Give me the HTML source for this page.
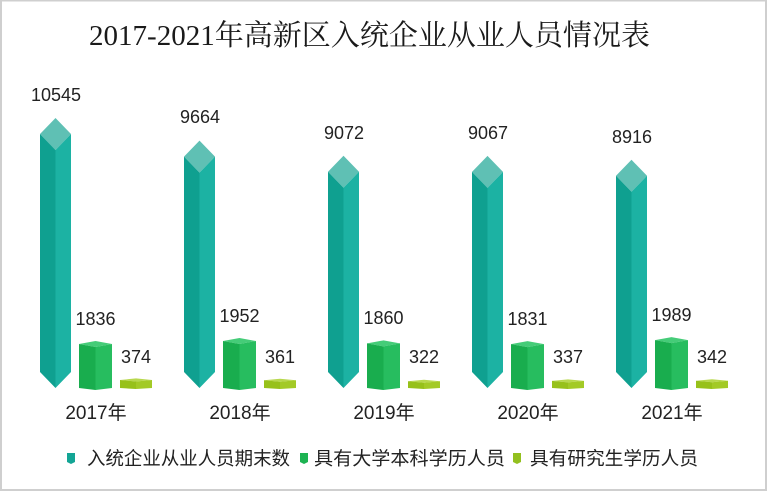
<!DOCTYPE html>
<html>
<head>
<meta charset="utf-8">
<style>
  html,body{margin:0;padding:0;background:#fff;}
  svg{display:block;}
  .lbl{font-family:"Liberation Sans","Noto Sans CJK SC",sans-serif;font-size:18px;fill:#222;text-anchor:middle;}
  .yr{font-family:"Liberation Sans","Noto Sans CJK SC",sans-serif;font-size:19px;fill:#222;text-anchor:middle;}
  .lg{font-family:"Liberation Sans","Noto Sans CJK SC",sans-serif;font-size:18.5px;fill:#222;}
  .tt{font-family:"Liberation Serif","Noto Serif CJK SC",serif;font-size:29px;fill:#1a1a1a;}
</style>
</head>
<body>
<svg width="768" height="492" viewBox="0 0 768 492" xmlns="http://www.w3.org/2000/svg">
  <rect x="0" y="0" width="768" height="492" fill="#fff"/>
  <!-- border -->
  <rect x="1" y="0.5" width="765" height="489.5" fill="none" stroke="#cfcfcf" stroke-width="2"/>

  <text class="tt" x="89" y="45" textLength="561" lengthAdjust="spacingAndGlyphs">2017-2021年高新区入统企业从业人员情况表</text>

  <!-- Group 2017 x0=40 -->
  <g>
    <polygon points="55.5,118 71,134 55.5,150 40,134" fill="#5FC0B4"/>
    <polygon points="40,134 55.5,150 55.5,388 40,372" fill="#0FA090"/>
    <polygon points="55.5,150 71,134 71,372 55.5,388" fill="#1CB2A3"/>
    <text class="lbl" x="56" y="101">10545</text>
    <polygon points="79,344 95.5,341 112,344 95.5,347" fill="#45CC78"/>
    <polygon points="79,344 95.5,347 95.5,390 79,388" fill="#19AD4E"/>
    <polygon points="95.5,347 112,344 112,388 95.5,390" fill="#27BD5F"/>
    <text class="lbl" x="95.5" y="325">1836</text>
    <polygon points="120,380 136,378.4 152,380 136,381.5" fill="#B8D84E"/>
    <polygon points="120,380 136,381.5 136,389 120,388" fill="#97C11A"/>
    <polygon points="136,381.5 152,380 152,388 136,389" fill="#A3CA26"/>
    <text class="lbl" x="136" y="363">374</text>
    <text class="yr" x="96" y="419">2017年</text>
  </g>

  <!-- Group 2018 x0=184 -->
  <g>
    <polygon points="199.5,140.6 215,156.6 199.5,172.6 184,156.6" fill="#5FC0B4"/>
    <polygon points="184,156.6 199.5,172.6 199.5,388 184,372" fill="#0FA090"/>
    <polygon points="199.5,172.6 215,156.6 215,372 199.5,388" fill="#1CB2A3"/>
    <text class="lbl" x="200" y="123">9664</text>
    <polygon points="223,341 239.5,338 256,341 239.5,344" fill="#45CC78"/>
    <polygon points="223,341 239.5,344 239.5,390 223,388" fill="#19AD4E"/>
    <polygon points="239.5,344 256,341 256,388 239.5,390" fill="#27BD5F"/>
    <text class="lbl" x="239.5" y="322">1952</text>
    <polygon points="264,380.3 280,378.8 296,380.3 280,381.8" fill="#B8D84E"/>
    <polygon points="264,380.3 280,381.8 280,389 264,388" fill="#97C11A"/>
    <polygon points="280,381.8 296,380.3 296,388 280,389" fill="#A3CA26"/>
    <text class="lbl" x="280" y="363">361</text>
    <text class="yr" x="240" y="419">2018年</text>
  </g>

  <!-- Group 2019 x0=328 -->
  <g>
    <polygon points="343.5,155.8 359,171.8 343.5,187.8 328,171.8" fill="#5FC0B4"/>
    <polygon points="328,171.8 343.5,187.8 343.5,388 328,372" fill="#0FA090"/>
    <polygon points="343.5,187.8 359,171.8 359,372 343.5,388" fill="#1CB2A3"/>
    <text class="lbl" x="344" y="139">9072</text>
    <polygon points="367,343.4 383.5,340.4 400,343.4 383.5,346.4" fill="#45CC78"/>
    <polygon points="367,343.4 383.5,346.4 383.5,390 367,388" fill="#19AD4E"/>
    <polygon points="383.5,346.4 400,343.4 400,388 383.5,390" fill="#27BD5F"/>
    <text class="lbl" x="383.5" y="324">1860</text>
    <polygon points="408,381.3 424,379.8 440,381.3 424,382.8" fill="#B8D84E"/>
    <polygon points="408,381.3 424,382.8 424,389 408,388" fill="#97C11A"/>
    <polygon points="424,382.8 440,381.3 440,388 424,389" fill="#A3CA26"/>
    <text class="lbl" x="424" y="363">322</text>
    <text class="yr" x="384" y="419">2019年</text>
  </g>

  <!-- Group 2020 x0=472 -->
  <g>
    <polygon points="487.5,155.9 503,171.9 487.5,187.9 472,171.9" fill="#5FC0B4"/>
    <polygon points="472,171.9 487.5,187.9 487.5,388 472,372" fill="#0FA090"/>
    <polygon points="487.5,187.9 503,171.9 503,372 487.5,388" fill="#1CB2A3"/>
    <text class="lbl" x="488" y="139">9067</text>
    <polygon points="511,344.1 527.5,341.1 544,344.1 527.5,347.1" fill="#45CC78"/>
    <polygon points="511,344.1 527.5,347.1 527.5,390 511,388" fill="#19AD4E"/>
    <polygon points="527.5,347.1 544,344.1 544,388 527.5,390" fill="#27BD5F"/>
    <text class="lbl" x="527.5" y="325">1831</text>
    <polygon points="552,380.9 568,379.4 584,380.9 568,382.4" fill="#B8D84E"/>
    <polygon points="552,380.9 568,382.4 568,389 552,388" fill="#97C11A"/>
    <polygon points="568,382.4 584,380.9 584,388 568,389" fill="#A3CA26"/>
    <text class="lbl" x="568" y="363">337</text>
    <text class="yr" x="528" y="419">2020年</text>
  </g>

  <!-- Group 2021 x0=616 -->
  <g>
    <polygon points="631.5,159.8 647,175.8 631.5,191.8 616,175.8" fill="#5FC0B4"/>
    <polygon points="616,175.8 631.5,191.8 631.5,388 616,372" fill="#0FA090"/>
    <polygon points="631.5,191.8 647,175.8 647,372 631.5,388" fill="#1CB2A3"/>
    <text class="lbl" x="632" y="143">8916</text>
    <polygon points="655,340.1 671.5,337.1 688,340.1 671.5,343.1" fill="#45CC78"/>
    <polygon points="655,340.1 671.5,343.1 671.5,390 655,388" fill="#19AD4E"/>
    <polygon points="671.5,343.1 688,340.1 688,388 671.5,390" fill="#27BD5F"/>
    <text class="lbl" x="671.5" y="321">1989</text>
    <polygon points="696,380.7 712,379.2 728,380.7 712,382.2" fill="#B8D84E"/>
    <polygon points="696,380.7 712,382.2 712,389 696,388" fill="#97C11A"/>
    <polygon points="712,382.2 728,380.7 728,388 712,389" fill="#A3CA26"/>
    <text class="lbl" x="712" y="363">342</text>
    <text class="yr" x="672" y="419">2021年</text>
  </g>

  <!-- Legend -->
  <polygon points="67,453 75,453 75,462 71,464 67,462" fill="#13A595"/>
  <text class="lg" x="87" y="465" textLength="203" lengthAdjust="spacingAndGlyphs">入统企业从业人员期末数</text>
  <polygon points="300,453 308,453 308,462 304,464 300,462" fill="#1DB352"/>
  <text class="lg" x="314" y="465" textLength="191" lengthAdjust="spacingAndGlyphs">具有大学本科学历人员</text>
  <polygon points="513,453 521,453 521,462 517,464 513,462" fill="#93C01F"/>
  <text class="lg" x="530" y="465" textLength="168" lengthAdjust="spacingAndGlyphs">具有研究生学历人员</text>
</svg>
</body>
</html>
